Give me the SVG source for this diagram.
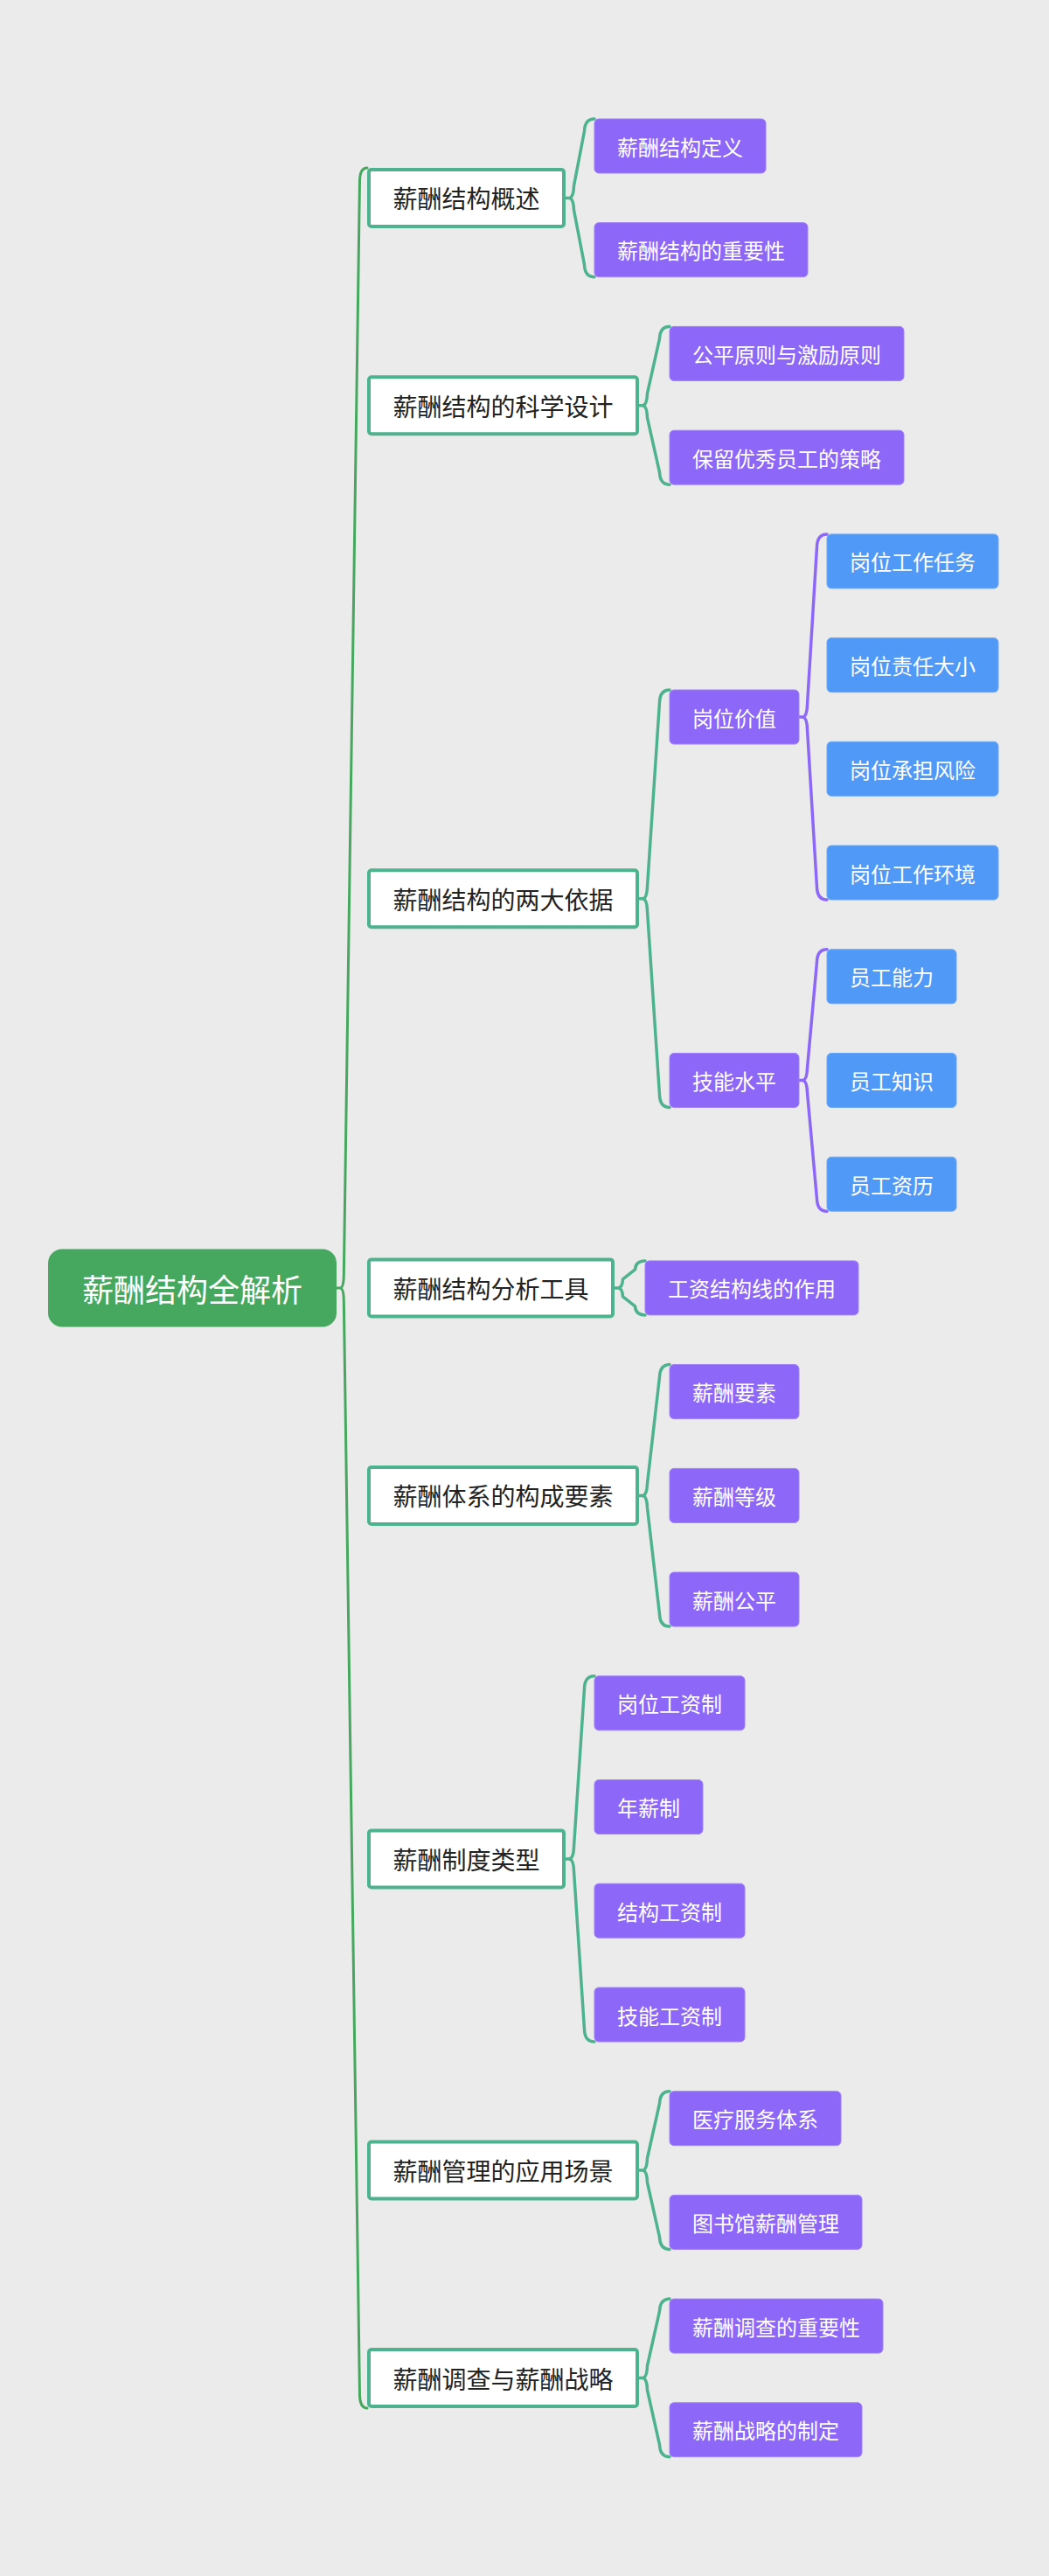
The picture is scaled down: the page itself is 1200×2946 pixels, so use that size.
<svg xmlns="http://www.w3.org/2000/svg" width="1200" height="2946" viewBox="0 0 1200 2946">
<style>
text{font-family:"Noto Sans CJK SC","Noto Sans",sans-serif;text-anchor:middle;dominant-baseline:central}
.root rect{fill:#46A85E}
.root text{fill:#fff;font-size:36px}
.l1 rect{fill:#fff;stroke:#4DB38E;stroke-width:4}
.l1 text{fill:#222;font-size:28px}
.p rect{fill:#8D67F7;stroke:#9F80F8;stroke-width:1}
.b rect{fill:#5199F6;stroke:#6AA8F6;stroke-width:1}
.p text,.b text{fill:#fff;font-size:24px}
.c{fill:none;stroke-width:3.5;stroke-linecap:round;stroke-linejoin:round}
.cg{stroke:#4DB38E}
.cp{stroke:#8D67F7}
.cm{stroke:#46A85E;stroke-width:3}
</style>
<rect width="1200" height="2946" fill="#EBEBEB"/>
<g id="connectors">
<path class="c cm" d="M385,1473 H389 Q393,1473 393.3,1459 L411.5,206 Q412,192 420,192 M389,1473 Q393,1473 393.3,1487 L411.5,2740 Q412,2754 420,2754"/>
<path class="c cg" d="M647,226.4 H651 Q656,226.4 656.5,212.4 L668.5,150 Q669,136 680,136 M651,226.4 Q656,226.4 656.5,240.4 L668.5,302.7 Q669,316.7 680,316.7"/>
<path class="c cg" d="M731,463.8 H735 Q740,463.8 740.5,449.8 L754.5,387.4 Q755,373.4 766,373.4 M735,463.8 Q740,463.8 740.5,477.8 L754.5,540.2 Q755,554.2 766,554.2"/>
<path class="c cg" d="M731,1027.8 H735 Q740,1027.8 740.5,1013.8 L754.5,803 Q755,789 766,789 M735,1027.8 Q740,1027.8 740.5,1041.8 L754.5,1252.5 Q755,1266.5 766,1266.5"/>
<path class="c cp" d="M914,820 H918 Q923,820 923.5,806 L934.5,624.9 Q935,610.9 946,610.9 M918,820 Q923,820 923.5,834 L934.5,1015 Q935,1029 946,1029"/>
<path class="c cp" d="M914,1235.5 H918 Q923,1235.5 923.5,1221.5 L934.5,1099.8 Q935,1085.8 946,1085.8 M918,1235.5 Q923,1235.5 923.5,1249.5 L934.5,1371.2 Q935,1385.2 946,1385.2"/>
<path class="c cg" d="M703,1472.9 H707 Q712,1472.9 712.5,1462.9 L726.5,1451.9 Q727,1441.9 738,1441.9 M707,1472.9 Q712,1472.9 712.5,1482.9 L726.5,1493.9 Q727,1503.9 738,1503.9"/>
<path class="c cg" d="M731,1710.4 H735 Q740,1710.4 740.5,1696.4 L754.5,1574.6 Q755,1560.6 766,1560.6 M735,1710.4 Q740,1710.4 740.5,1724.4 L754.5,1846.1 Q755,1860.1 766,1860.1"/>
<path class="c cg" d="M647,2125.9 H651 Q656,2125.9 656.5,2111.9 L668.5,1930.8 Q669,1916.8 680,1916.8 M651,2125.9 Q656,2125.9 656.5,2139.9 L668.5,2321 Q669,2335 680,2335"/>
<path class="c cg" d="M731,2482 H735 Q740,2482 740.5,2468 L754.5,2405.7 Q755,2391.7 766,2391.7 M735,2482 Q740,2482 740.5,2496 L754.5,2558.4 Q755,2572.4 766,2572.4"/>
<path class="c cg" d="M731,2719.5 H735 Q740,2719.5 740.5,2705.5 L754.5,2643.1 Q755,2629.1 766,2629.1 M735,2719.5 Q740,2719.5 740.5,2733.5 L754.5,2795.8 Q755,2809.8 766,2809.8"/>
</g>
<g id="root" class="root"><rect x="55" y="1428.5" width="330" height="89" rx="16"/><text x="220" y="1473">薪酬结构全解析</text></g>

<g id="n1" class="l1"><rect x="422" y="193.9" width="223" height="65" rx="3"/><text x="533.5" y="226.4">薪酬结构概述</text></g>
<g id="n2" class="l1"><rect x="422" y="431.3" width="307" height="65" rx="3"/><text x="575.5" y="463.8">薪酬结构的科学设计</text></g>
<g id="n3" class="l1"><rect x="422" y="995.3" width="307" height="65" rx="3"/><text x="575.5" y="1027.8">薪酬结构的两大依据</text></g>
<g id="n4" class="l1"><rect x="422" y="1440.4" width="279" height="65" rx="3"/><text x="561.5" y="1472.9">薪酬结构分析工具</text></g>
<g id="n5" class="l1"><rect x="422" y="1677.9" width="307" height="65" rx="3"/><text x="575.5" y="1710.4">薪酬体系的构成要素</text></g>
<g id="n6" class="l1"><rect x="422" y="2093.4" width="223" height="65" rx="3"/><text x="533.5" y="2125.9">薪酬制度类型</text></g>
<g id="n7" class="l1"><rect x="422" y="2449.5" width="307" height="65" rx="3"/><text x="575.5" y="2482">薪酬管理的应用场景</text></g>
<g id="n8" class="l1"><rect x="422" y="2687" width="307" height="65" rx="3"/><text x="575.5" y="2719.5">薪酬调查与薪酬战略</text></g>

<g id="n1a" class="p"><rect x="680" y="136" width="196" height="62" rx="5"/><text x="778" y="167">薪酬结构定义</text></g>
<g id="n1b" class="p"><rect x="680" y="254.7" width="244" height="62" rx="5"/><text x="802" y="285.7">薪酬结构的重要性</text></g>
<g id="n2a" class="p"><rect x="766" y="373.4" width="268" height="62" rx="5"/><text x="900" y="404.4">公平原则与激励原则</text></g>
<g id="n2b" class="p"><rect x="766" y="492.2" width="268" height="62" rx="5"/><text x="900" y="523.2">保留优秀员工的策略</text></g>
<g id="n3a" class="p"><rect x="766" y="789" width="148" height="62" rx="5"/><text x="840" y="820">岗位价值</text></g>
<g id="n3b" class="p"><rect x="766" y="1204.5" width="148" height="62" rx="5"/><text x="840" y="1235.5">技能水平</text></g>
<g id="n3a1" class="b"><rect x="946" y="610.9" width="196" height="62" rx="5"/><text x="1044" y="641.9">岗位工作任务</text></g>
<g id="n3a2" class="b"><rect x="946" y="729.6" width="196" height="62" rx="5"/><text x="1044" y="760.6">岗位责任大小</text></g>
<g id="n3a3" class="b"><rect x="946" y="848.3" width="196" height="62" rx="5"/><text x="1044" y="879.3">岗位承担风险</text></g>
<g id="n3a4" class="b"><rect x="946" y="967" width="196" height="62" rx="5"/><text x="1044" y="998">岗位工作环境</text></g>
<g id="n3b1" class="b"><rect x="946" y="1085.8" width="148" height="62" rx="5"/><text x="1020" y="1116.8">员工能力</text></g>
<g id="n3b2" class="b"><rect x="946" y="1204.5" width="148" height="62" rx="5"/><text x="1020" y="1235.5">员工知识</text></g>
<g id="n3b3" class="b"><rect x="946" y="1323.2" width="148" height="62" rx="5"/><text x="1020" y="1354.2">员工资历</text></g>
<g id="n4a" class="p"><rect x="738" y="1441.9" width="244" height="62" rx="5"/><text x="860" y="1472.9">工资结构线的作用</text></g>
<g id="n5a" class="p"><rect x="766" y="1560.6" width="148" height="62" rx="5"/><text x="840" y="1591.6">薪酬要素</text></g>
<g id="n5b" class="p"><rect x="766" y="1679.4" width="148" height="62" rx="5"/><text x="840" y="1710.4">薪酬等级</text></g>
<g id="n5c" class="p"><rect x="766" y="1798.1" width="148" height="62" rx="5"/><text x="840" y="1829.1">薪酬公平</text></g>
<g id="n6a" class="p"><rect x="680" y="1916.8" width="172" height="62" rx="5"/><text x="766" y="1947.8">岗位工资制</text></g>
<g id="n6b" class="p"><rect x="680" y="2035.5" width="124" height="62" rx="5"/><text x="742" y="2066.5">年薪制</text></g>
<g id="n6c" class="p"><rect x="680" y="2154.2" width="172" height="62" rx="5"/><text x="766" y="2185.2">结构工资制</text></g>
<g id="n6d" class="p"><rect x="680" y="2273" width="172" height="62" rx="5"/><text x="766" y="2304">技能工资制</text></g>
<g id="n7a" class="p"><rect x="766" y="2391.7" width="196" height="62" rx="5"/><text x="864" y="2422.7">医疗服务体系</text></g>
<g id="n7b" class="p"><rect x="766" y="2510.4" width="220" height="62" rx="5"/><text x="876" y="2541.4">图书馆薪酬管理</text></g>
<g id="n8a" class="p"><rect x="766" y="2629.1" width="244" height="62" rx="5"/><text x="888" y="2660.1">薪酬调查的重要性</text></g>
<g id="n8b" class="p"><rect x="766" y="2747.8" width="220" height="62" rx="5"/><text x="876" y="2778.8">薪酬战略的制定</text></g>
</svg>
